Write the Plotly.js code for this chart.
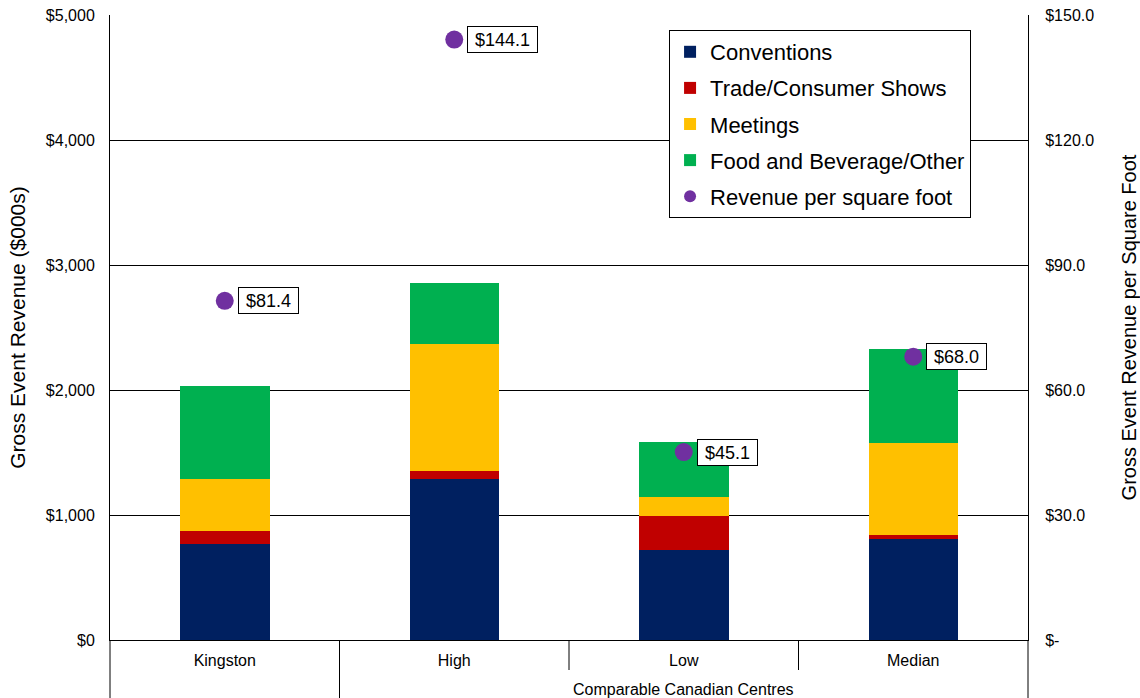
<!DOCTYPE html>
<html>
<head>
<meta charset="utf-8">
<script src="https://cdn.plot.ly/plotly-3.0.1.min.js"></script>
<style>
  html, body { margin: 0; padding: 0; background: #fff; }
  #chart { width: 1140px; height: 698px; }
</style>
</head>
<body>
<div id="chart"></div>
<script>
// Gross event revenue by type ($000s) and revenue per square foot
const centres = ["Kingston", "High", "Low", "Median"];
const conventions = [770, 1288, 722, 808];
const tradeShows = [102, 64, 270, 32];
const meetings = [416, 1018, 152, 736];
const foodBeverage = [744, 486, 440, 752];
const revenuePerSqFt = [81.4, 144.1, 45.1, 68.0];

const groupLabel = "Comparable Canadian Centres";
const leftTicks = [0, 1000, 2000, 3000, 4000, 5000];
const leftTickText = ["$0", "$1,000", "$2,000", "$3,000", "$4,000", "$5,000"];
const rightTicks = [0, 30, 60, 90, 120, 150];
const rightTickText = ["$-", "$30.0", "$60.0", "$90.0", "$120.0", "$150.0"];

const FONT = "Liberation Sans, Arial, sans-serif";

function barTrace(name, values, color) {
  return {
    type: "bar",
    name: name,
    x: centres,
    y: values,
    legendgroup: name,
    marker: { color: color, line: { width: 0 } },
    width: 0.39,
    hoverinfo: "name+y"
  };
}

const traces = [
  barTrace("Conventions", conventions, "#002060"),
  barTrace("Trade/Consumer Shows", tradeShows, "#C00000"),
  barTrace("Meetings", meetings, "#FFC000"),
  barTrace("Food and Beverage/Other", foodBeverage, "#00B050"),
  {
    type: "scatter",
    mode: "markers",
    name: "Revenue per square foot",
    legendgroup: "rpsf",
    x: centres,
    y: revenuePerSqFt,
    yaxis: "y2",
    marker: { color: "#7030A0", size: 18 },
    hoverinfo: "y"
  }
];

// value boxes next to each revenue-per-square-foot marker
const annotations = revenuePerSqFt.map((v, i) => ({
  x: centres[i],
  y: v,
  xref: "x",
  yref: "y2",
  text: "&nbsp;$" + v.toFixed(1) + "&nbsp;",
  showarrow: false,
  xanchor: "left",
  yanchor: "middle",
  xshift: 13,
  height: 21,
  valign: "middle",
  font: { family: FONT, size: 18, color: "#000" },
  bgcolor: "#fff",
  bordercolor: "#000",
  borderwidth: 1,
  borderpad: 2
}));

annotations.push({
  x: 0.625,
  y: 0,
  xref: "paper",
  yref: "paper",
  yshift: -49,
  text: groupLabel,
  showarrow: false,
  xanchor: "center",
  yanchor: "middle",
  font: { family: FONT, size: 16, color: "#000" }
});

// category dividers below the axis
const plotH = 625;
const shortDrop = -30 / plotH;
const longDrop = -58 / plotH;
const vline = (x, y1) => ({
  type: "line", xref: "paper", yref: "paper",
  x0: x, x1: x, y0: 0, y1: y1,
  line: { color: "#000", width: 1 }
});
const shapes = [
  vline(0, longDrop),
  vline(0.25, longDrop),
  vline(0.5, shortDrop),
  vline(0.75, shortDrop),
  vline(1, longDrop)
];

const layout = {
  width: 1140,
  height: 698,
  margin: { l: 110, r: 112, t: 15, b: 58 },
  paper_bgcolor: "#fff",
  plot_bgcolor: "#fff",
  barmode: "stack",
  font: { family: FONT, size: 16, color: "#000" },
  showlegend: true,
  legend: {
    x: 0.609, y: 0.976,
    xanchor: "left", yanchor: "top",
    bgcolor: "#fff",
    bordercolor: "#000",
    borderwidth: 1,
    traceorder: "grouped",
    tracegroupgap: 4.5,
    itemsizing: "constant",
    font: { family: FONT, size: 22, color: "#000" }
  },
  xaxis: {
    type: "category",
    range: [-0.5, 3.5],
    showline: true,
    linecolor: "#000",
    linewidth: 1,
    ticks: "",
    ticklabelstandoff: 6,
    showgrid: false,
    tickfont: { family: FONT, size: 16, color: "#000" },
    fixedrange: true
  },
  yaxis: {
    range: [0, 5000],
    tickvals: leftTicks,
    ticktext: leftTickText,
    showline: true,
    linecolor: "#000",
    linewidth: 1,
    ticks: "",
    ticklabelstandoff: 11,
    showgrid: true,
    gridcolor: "#000",
    gridwidth: 1,
    zeroline: false,
    tickfont: { family: FONT, size: 16, color: "#000" },
    title: { text: "Gross Event Revenue ($000s)", font: { family: FONT, size: 21, color: "#000" }, standoff: 14 },
    fixedrange: true
  },
  yaxis2: {
    overlaying: "y",
    side: "right",
    range: [0, 150],
    tickvals: rightTicks,
    ticktext: rightTickText,
    showline: true,
    linecolor: "#000",
    linewidth: 1,
    ticks: "",
    ticklabelstandoff: 13,
    showgrid: false,
    zeroline: false,
    tickfont: { family: FONT, size: 16, color: "#000" },
    title: { text: "Gross Event Revenue per Square Foot", font: { family: FONT, size: 20, color: "#000" }, standoff: 29 },
    fixedrange: true
  },
  annotations: annotations,
  shapes: shapes
};

Plotly.newPlot("chart", traces, layout, { displayModeBar: false });
</script>
</body>
</html>
